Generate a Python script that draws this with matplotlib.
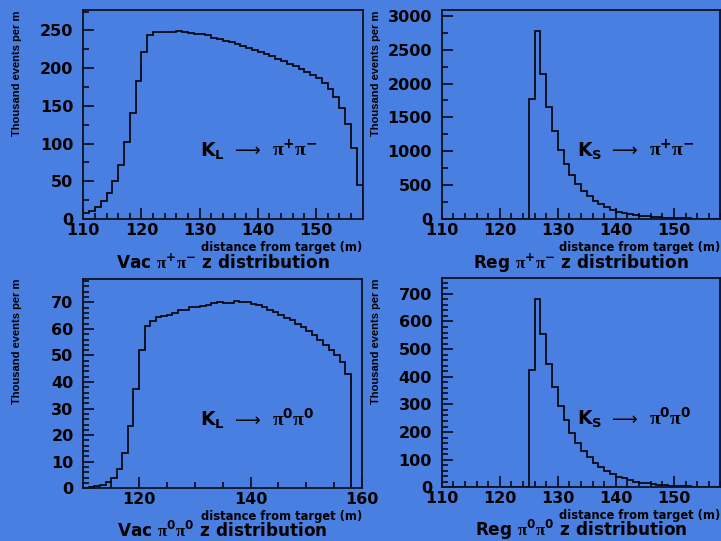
import numpy as np
import matplotlib
matplotlib.use("Agg")
import matplotlib.pyplot as plt
from matplotlib.ticker import MultipleLocator

plt.rcParams['font.family'] = ['DejaVu Sans']
plt.rcParams['font.weight'] = 'bold'
plt.rcParams['mathtext.fontset'] = 'custom'
plt.rcParams['mathtext.rm'] = 'Liberation Serif'
plt.rcParams['mathtext.bf'] = 'DejaVu Sans:bold'
plt.rcParams['mathtext.sf'] = 'DejaVu Sans'
plt.rcParams['mathtext.it'] = 'DejaVu Sans:italic'

# 1 m bins, 110 -> 158 m from target
z_edges = np.arange(110, 159)

# thousand events per m, one value per bin
vac_pipi = [7.5, 11, 16.3, 23.9, 34.4, 50.3, 72, 102, 141, 183,
            221, 243.5, 247.3, 247.3, 247.5, 248, 249, 247.3, 246.5, 245.5,
            245, 244, 239.4, 239, 236.3, 235, 232, 228.8, 226.2, 224,
            220.8, 218.6, 215.6, 211.6, 209, 205.4, 202.3, 198.8, 195.2, 191.2,
            186.4, 179.8, 171.8, 162, 147.5, 126, 94.5, 45]

reg_pipi = [0, 0, 0, 0, 0, 0, 0, 0, 0, 0, 0, 0, 0, 0, 0,
            1775, 2780, 2140, 1657, 1293, 1018, 811, 649, 511, 412,
            333, 265, 214, 172, 138, 110, 88, 71, 57, 46,
            37, 30, 24, 19, 15, 12, 10, 8, 6.5, 5,
            4, 3.3, 2.7]

vac_pi0 = [0.2, 0.4, 0.8, 1.2, 2.3, 3.8, 7.3, 13.4, 23.6, 37.5,
           51.9, 61.1, 63.1, 64.6, 64.7, 65.1, 65.9, 67.1, 67.3, 68.1,
           68.4, 68.7, 69, 69.8, 70, 69.8, 69.9, 70.7, 70.3, 70,
           69.5, 68.9, 68.2, 67.3, 66.4, 65.4, 64.3, 63.2, 62, 60.6,
           59.2, 57.6, 56, 54, 52, 50, 47.5, 43]

reg_pi0 = [0, 0, 0, 0, 0, 0, 0, 0, 0, 0, 0, 0, 0, 0, 0,
           425, 680, 555, 447, 363, 296, 242, 197, 162, 133,
           109, 89, 72, 59, 48, 39, 32, 26, 21, 17,
           14, 11.5, 9.5, 7.7, 6.3, 5.1, 4.2, 3.4, 2.8, 2.3,
           1.9, 1.5, 1.2]

pp = r'$\mathrm{\pi}^{\mathbf{+}}\mathrm{\pi}^{\mathbf{-}}$'
p00 = r'$\mathrm{\pi}^{\mathbf{0}}\mathrm{\pi}^{\mathbf{0}}$'

bg = '#4a7fe2'
fig = plt.figure(figsize=(7.21, 5.41), dpi=100, facecolor=bg)


def draw(rect, values, xmax, xmaj, xmin, ymax, ymaj, ymin, kaon, pions, title,
         kx, ty):
    ax = fig.add_axes(rect, facecolor=bg)
    ax.stairs(values, z_edges, color='black', lw=1.2)
    ax.set_xlim(110, xmax)
    ax.set_ylim(0, ymax)
    ax.xaxis.set_major_locator(MultipleLocator(xmaj))
    ax.xaxis.set_minor_locator(MultipleLocator(xmin))
    ax.yaxis.set_major_locator(MultipleLocator(ymaj))
    ax.yaxis.set_minor_locator(MultipleLocator(ymin))
    ax.tick_params(which='both', direction='in', colors='black', width=1.1)
    ax.tick_params(which='major', length=8, labelsize=11.5)
    ax.tick_params(which='minor', length=4)
    ax.tick_params(axis='x', pad=3)
    ax.tick_params(axis='y', pad=7)
    for s in ax.spines.values():
        s.set_linewidth(1.3)
        s.set_color('#111122')
    ax.text(-0.237, 1.0, 'Thousand events per m', transform=ax.transAxes,
            rotation=90, ha='center', va='top', fontsize=8,
            family='Liberation Sans')
    ax.text(1.0, -0.104, 'distance from target (m)', transform=ax.transAxes,
            ha='right', va='top', fontsize=8.3)
    ax.text(0.5, ty, title, transform=ax.transAxes,
            ha='center', va='baseline', fontsize=12.2)
    # decay label: kaon, arrow, pions
    ax.text(kx, 0.3, kaon, transform=ax.transAxes, ha='left', va='baseline',
            fontsize=13.5)
    ax.text(kx + 0.126, 0.3, '\u27f6', transform=ax.transAxes,
            ha='left', va='baseline', fontsize=13, fontweight='normal',
            family=['DejaVu Sans', 'DejaVu Serif', 'Noto Sans'])
    ax.text(kx + 0.258, 0.3, pions, transform=ax.transAxes, ha='left',
            va='baseline', fontsize=14)
    return ax


draw([0.1155, 0.5952, 0.3874, 0.3863], vac_pipi, 158, 10, 2, 277, 50, 25,
     r'$\mathbf{K_L}$', pp, 'Vac ' + pp + ' z distribution', 0.418, -0.240)
draw([0.6126, 0.5952, 0.3865, 0.3863], reg_pipi, 158, 10, 2, 3085, 500, 250,
     r'$\mathbf{K_S}$', pp, 'Reg ' + pp + ' z distribution', 0.4855, -0.240)
draw([0.1155, 0.0974, 0.3866, 0.3869], vac_pi0, 160, 20, 5, 78.8, 10, 2,
     r'$\mathbf{K_L}$', p00, 'Vac ' + p00 + ' z distribution', 0.418, -0.232)
draw([0.6126, 0.0992, 0.3865, 0.3863], reg_pi0, 158, 10, 2, 756, 100, 20,
     r'$\mathbf{K_S}$', p00, 'Reg ' + p00 + ' z distribution', 0.4855, -0.232)

fig.savefig('out.png', dpi=100, facecolor=bg)
